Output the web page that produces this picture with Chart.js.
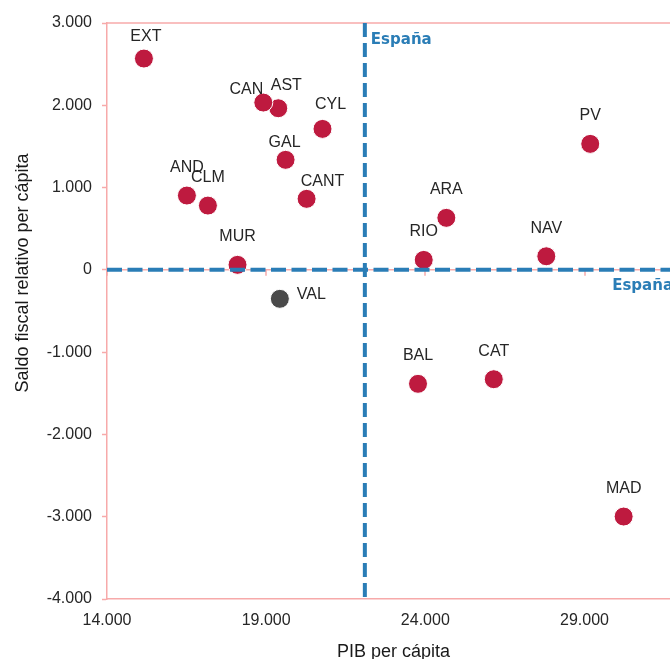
<!DOCTYPE html>
<html>
<head>
<meta charset="utf-8">
<script src="https://cdn.jsdelivr.net/npm/chart.js@4.4.1/dist/chart.umd.min.js"></script>
<style>
  html, body { margin: 0; padding: 0; background: #fff; overflow: hidden; }
  #wrap { width: 670px; height: 659px; overflow: hidden; position: relative; }
  canvas { display: block; }
</style>
</head>
<body>
<div id="wrap"><canvas id="c" width="700" height="680" style="width:700px;height:680px"></canvas></div>
<script>
// ---- data ----
const regions = ['AND','ARA','AST','BAL','CAN','CANT','CLM','CYL','CAT','EXT','GAL','MAD','MUR','NAV','PV','RIO','VAL'];
const pibPerCapita = [16510, 24660, 19380, 23770, 18910, 20270, 17170, 20770, 26150, 15160, 19610, 30230, 18100, 27800, 29180, 23950, 19430];
const saldoFiscal = [903, 632, 1964, -1385, 2033, 863, 781, 1713, -1329, 2568, 1337, -2998, 61, 165, 1531, 121, -352];
const spainPib = 22100;
const spainSaldo = 0;
const xTicks = [14000, 19000, 24000, 29000];
const yTicks = [-4000, -3000, -2000, -1000, 0, 1000, 2000, 3000];
const xRange = [14000, 32000];
const yRange = [-4000, 3000];
const refLabel = 'España';
const xTitle = 'PIB per cápita';
const yTitle = 'Saldo fiscal relativo per cápita';
const highlighted = 'VAL';

// ---- styles ----
const PINK = '#f7aaaa';
const BLUE = '#2a7db6';
const RED = '#be1a3f';
const GREY = '#4a4a4a';
const FONT = '"Liberation Sans", Arial, sans-serif';
const labelOffsets = { EXT:[2,-22], CAN:[-17,-13], AST:[8,-23], CYL:[8,-24], GAL:[-1,-17], CANT:[16,-17], VAL:[32,-4] };

function fmt(v) {
  const s = Math.abs(v).toString().replace(/\B(?=(\d{3})+(?!\d))/g, '.');
  return (v < 0 ? '-' : '') + s;
}

const points = regions.map((r, i) => ({ x: pibPerCapita[i], y: saldoFiscal[i], label: r }));

const decorPlugin = {
  id: 'decor',
  beforeDatasetsDraw(chart) {
    const { ctx, chartArea: a, scales } = chart;
    ctx.save();
    ctx.strokeStyle = PINK;
    ctx.lineWidth = 1.5;
    ctx.beginPath();
    ctx.moveTo(a.left, a.top); ctx.lineTo(a.right, a.top);
    ctx.moveTo(a.right, a.top); ctx.lineTo(a.right, a.bottom);
    ctx.stroke();
    // tick marks where the horizontal axis crosses at 0
    const y0 = scales.y.getPixelForValue(0);
    ctx.beginPath();
    xTicks.forEach(v => {
      const px = Math.round(scales.x.getPixelForValue(v));
      ctx.moveTo(px, y0); ctx.lineTo(px, y0 + 6);
    });
    ctx.moveTo(a.left, y0); ctx.lineTo(a.right, y0);
    ctx.stroke();
    ctx.restore();
  },
  afterDatasetsDraw(chart) {
    const { ctx, chartArea: a, scales } = chart;
    ctx.save();
    // point labels
    const meta = chart.getDatasetMeta(2);
    ctx.font = '16px ' + FONT;
    ctx.fillStyle = '#262626';
    ctx.textAlign = 'center';
    ctx.textBaseline = 'middle';
    meta.data.forEach((el, i) => {
      const name = regions[i];
      const off = labelOffsets[name] || [0, -28];
      if (name === highlighted) {
        ctx.textAlign = 'left';
        ctx.fillText(name, el.x + off[0] - 15, el.y + off[1]);
        ctx.textAlign = 'center';
      } else {
        ctx.fillText(name, el.x + off[0], el.y + off[1]);
      }
    });
    // España labels
    ctx.font = 'bold 15px "DejaVu Sans", Verdana, sans-serif';
    ctx.fillStyle = BLUE;
    ctx.textAlign = 'left';
    ctx.fillText(refLabel, scales.x.getPixelForValue(spainPib) + 6, a.top + 17);
    ctx.textAlign = 'right';
    ctx.fillText(refLabel, a.right - 7, scales.y.getPixelForValue(spainSaldo) + 16);
    // axis titles
    ctx.font = '18px ' + FONT;
    ctx.fillStyle = '#1a1a1a';
    ctx.textAlign = 'center';
    ctx.fillText(xTitle, (a.left + a.right) / 2, 652);
    ctx.translate(23, 273);
    ctx.rotate(-Math.PI / 2);
    ctx.fillText(yTitle, 0, 0);
    ctx.restore();
  }
};

new Chart(document.getElementById('c'), {
  type: 'scatter',
  data: {
    datasets: [
      {
        type: 'line',
        data: [{ x: spainPib, y: yRange[1] }, { x: spainPib, y: yRange[0] }],
        borderColor: BLUE, borderWidth: 4, borderDash: [14, 6], borderCapStyle: 'butt',
        pointRadius: 0, fill: false, order: 0
      },
      {
        type: 'line',
        data: [{ x: xRange[0], y: spainSaldo }, { x: xRange[1], y: spainSaldo }],
        borderColor: BLUE, borderWidth: 4, borderDash: [15, 5.5], borderCapStyle: 'butt',
        pointRadius: 0, fill: false, order: 0
      },
      {
        data: points,
        pointRadius: 9.5,
        pointHoverRadius: 9.5,
        pointBackgroundColor: ctx => (regions[ctx.dataIndex] === highlighted ? GREY : RED),
        pointBorderColor: '#ffffff',
        pointBorderWidth: 1,
        order: 1
      }
    ]
  },
  options: {
    responsive: false,
    animation: false,
    devicePixelRatio: 1,
    layout: { padding: { top: 23, right: 20, left: 0, bottom: 0 } },
    plugins: { legend: { display: false }, tooltip: { enabled: false } },
    scales: {
      x: {
        type: 'linear',
        position: 'bottom',
        min: xRange[0], max: xRange[1],
        afterBuildTicks: s => { s.ticks = xTicks.map(v => ({ value: v })); },
        afterFit: s => { s.height = 81; },
        grid: { drawOnChartArea: false, drawTicks: false, color: PINK },
        border: { color: PINK, width: 1.5 },
        ticks: { padding: 12, color: '#262626', font: { size: 16, family: FONT }, callback: v => fmt(v), maxRotation: 0 }
      },
      y: {
        type: 'linear',
        min: yRange[0], max: yRange[1],
        afterBuildTicks: s => { s.ticks = yTicks.map(v => ({ value: v })); },
        afterFit: s => { s.width = 107; },
        grid: { drawOnChartArea: false, drawTicks: true, tickLength: 5, color: PINK, tickWidth: 1.5 },
        border: { color: PINK, width: 1.5 },
        ticks: { padding: 10, color: '#262626', font: { size: 16, family: FONT }, callback: v => fmt(v) }
      }
    }
  },
  plugins: [decorPlugin]
});
</script>
</body>
</html>
